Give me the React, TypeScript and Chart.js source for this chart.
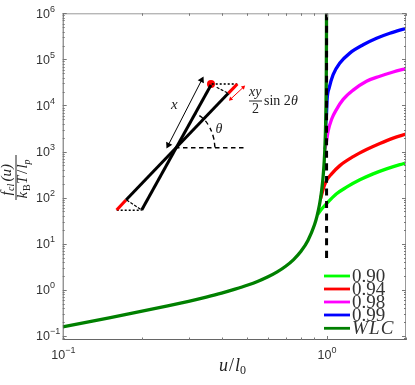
import React, { useEffect, useRef } from "react";
import { Chart, registerables } from "chart.js";

Chart.register(...registerables);

const wlcU = [0.1, 0.15, 0.2, 0.25, 0.3, 0.35, 0.4, 0.45, 0.5, 0.55, 0.6, 0.65, 0.7, 0.75, 0.8, 0.85, 0.9, 0.92, 0.94, 0.95, 0.96, 0.97, 0.98, 0.985, 0.99, 0.993, 0.995, 0.997, 0.998, 0.999, 0.9995];
const wlcF = [0.157, 0.246, 0.341, 0.444, 0.56, 0.692, 0.844, 1.03, 1.25, 1.53, 1.91, 2.44, 3.23, 4.5, 6.8, 11.7, 25.6, 39.7, 70, 100, 157, 278, 626, 1112, 2500, 5100, 10000, 27800, 62500, 250000, 1000000];
const u90 = [0.925, 0.96, 1, 1.091, 1.19, 1.337, 1.501, 1.687, 1.896, 2];
const f90 = [43, 57, 74, 121, 168, 243, 327, 420, 519, 565];
const u94 = [0.95, 0.975, 1, 1.045, 1.123, 1.261, 1.417, 1.592, 1.788, 2];
const f94 = [96, 166, 235, 327, 494, 772, 1104, 1496, 1954, 2384];
const u98 = [0.985, 1, 1.014, 1.045, 1.091, 1.156, 1.261, 1.417, 1.592, 1.788, 2];
const f98 = [1112, 1700, 2806, 5012, 8240, 13530, 21480, 33570, 43000, 53200, 63100];
const u99 = [0.992, 1, 1.005, 1.023, 1.059, 1.123, 1.225, 1.376, 1.547, 1.737, 2];
const f99 = [3600, 7000, 13530, 24060, 46800, 83200, 136800, 207500, 287700, 369000, 473000];
const dashU = [1, 1];
const dashF = [1000000, 4.07];

const seriesLabels = ["0.90", "0.94", "0.98", "0.99"];
const seriesColors = ["#00ff00", "#ff0000", "#ff00ff", "#0000ff"];
const wlcLabel = "WLC";
const wlcColor = "#008000";

const xMajor = [0.1, 1];
const xMinor = [0.2, 0.3, 0.4, 0.5, 0.6, 0.7, 0.8, 0.9, 2];
const yMajorExp = [-1, 0, 1, 2, 3, 4, 5, 6];
const yMinorMult = [2, 3, 4, 5, 6, 7, 8, 9];

// Inset schematic, in the hidden inset axes
const rodAX = [211, 141.7], rodAY = [255, 130];
const rodBX = [228.3, 126], rodBY = [246.7, 140];
const redTopX = [228.3, 237.3], redTopY = [246.7, 256];
const redBotX = [126, 116.7], redBotY = [140, 130];
const dotTopX = [211.7, 237.3], dotTopY = [256, 256];
const dotBotX = [116.7, 141.7], dotBotY = [129.7, 129.7];
const horizX = [175, 244], horizY = [192.3, 192.3];
const perpTopX = [216.7, 228.3], perpTopY = [252.7, 246.7];
const perpBotX = [126.7, 141.7], perpBotY = [140, 130];
const arcX = [215, 213.3, 208.3, 201.7, 195], arcY = [192.7, 203.3, 215, 222.7, 226.7];
const lenArrowX = [168.3, 201.7], lenArrowY = [195, 260];
const redArrowX = [230.7, 243.3], redArrowY = [241, 252.7];
const beadX = [211], beadY = [256];

const zip = (xs: number[], ys: number[]) => xs.map((x, i) => ({ x, y: ys[i] }));

const curve = (xs: number[], ys: number[], color: string, order: number) => ({
  data: zip(xs, ys), borderColor: color, backgroundColor: color, borderWidth: 3.3,
  pointRadius: 0, cubicInterpolationMode: "monotone" as const, order, xAxisID: "x", yAxisID: "y",
});
const inset = (xs: number[], ys: number[], color: string, width: number, dash: number[] = [], extra: object = {}) => ({
  data: zip(xs, ys), borderColor: color, backgroundColor: color, borderWidth: width, borderDash: dash,
  pointRadius: 0, order: 0, xAxisID: "xi", yAxisID: "yi", borderCapStyle: "butt" as const, ...extra,
});
const arrowHeads = (size: number, angle: number) => ({
  pointStyle: "triangle", pointRadius: size, pointRotation: [angle + 180, angle], pointBorderWidth: 0,
});

const SERIF = '"Liberation Serif"';
const SANS = '"Liberation Sans"';
const TICK_COLOR = "#333";

function txt(c: CanvasRenderingContext2D, s: string, x: number, y: number, font: string, align: CanvasTextAlign = "left", color = "#222") {
  c.font = font; c.textAlign = align; c.fillStyle = color; c.textBaseline = "alphabetic"; c.fillText(s, x, y);
}
function powerLabel(c: CanvasRenderingContext2D, exp: number, x: number, y: number) {
  const e = exp < 0 ? "\u2212" + Math.abs(exp) : String(exp);
  txt(c, "10", x, y, `12.5px ${SANS}`, "left", TICK_COLOR);
  txt(c, e, x + 14, y - 6, `9px ${SANS}`, "left", TICK_COLOR);
}

const decor = {
  id: "decor",
  afterDatasetsDraw(chart: any) {
    const c: CanvasRenderingContext2D = chart.ctx;
    const a = chart.chartArea, sx = chart.scales.x, sy = chart.scales.y;
    c.save();
    // frame
    c.lineWidth = 1;
    c.strokeStyle = "#999";
    c.beginPath(); c.moveTo(a.left, a.top + 0.5); c.lineTo(a.right, a.top + 0.5); c.moveTo(a.right - 0.5, a.top); c.lineTo(a.right - 0.5, a.bottom); c.stroke();
    c.strokeStyle = "#666";
    c.beginPath(); c.moveTo(a.left + 0.5, a.top); c.lineTo(a.left + 0.5, a.bottom); c.moveTo(a.left, a.bottom - 0.5); c.lineTo(a.right, a.bottom - 0.5); c.stroke();
    // ticks
    c.strokeStyle = "#777";
    const xTick = (v: number, len: number) => {
      const p = Math.round(sx.getPixelForValue(v)) + 0.5;
      c.moveTo(p, a.bottom); c.lineTo(p, a.bottom - len); c.moveTo(p, a.top); c.lineTo(p, a.top + len);
    };
    const yTick = (v: number, len: number) => {
      if (v < sy.min || v > sy.max) return;
      const p = Math.round(sy.getPixelForValue(v)) + 0.5;
      c.moveTo(a.left, p); c.lineTo(a.left + len, p); c.moveTo(a.right, p); c.lineTo(a.right - len, p);
    };
    c.beginPath();
    xMajor.forEach((v) => xTick(v, 4));
    xMinor.forEach((v) => xTick(v, 2.5));
    yMajorExp.forEach((e) => {
      yTick(Math.pow(10, e), 4);
      yMinorMult.forEach((m) => yTick(m * Math.pow(10, e), 2));
    });
    yTick(0.09, 2);
    c.stroke();
    // tick labels
    yMajorExp.forEach((e) => {
      const p = sy.getPixelForValue(Math.pow(10, e));
      powerLabel(c, e, 36, p + 4.7);
    });
    xMajor.forEach((v) => {
      const e = Math.round(Math.log10(v));
      const p = sx.getPixelForValue(v);
      powerLabel(c, e, e < 0 ? p - 11.5 : p - 9, 358.5);
    });
    // x title
    txt(c, "u", 219, 371, `italic 18px ${SERIF}`);
    txt(c, "/", 229, 371, `18px ${SERIF}`);
    txt(c, "l", 235, 371, `italic 18px ${SERIF}`);
    txt(c, "0", 240, 374, `12px ${SERIF}`);
    // y title
    c.save();
    c.translate(16, 177.5);
    c.rotate(-Math.PI / 2);
    c.fillStyle = "#222";
    c.fillRect(-22.5, -0.5, 45, 1);
    txt(c, "f", -18, -5, `italic 15px ${SERIF}`);
    txt(c, "cl", -13.5, -2.5, `italic 10px ${SERIF}`);
    txt(c, "(u)", -4, -5, `italic 15px ${SERIF}`);
    txt(c, "k", -21, 11, `italic 15px ${SERIF}`);
    txt(c, "B", -13.5, 13.5, `10px ${SERIF}`);
    txt(c, "T", -6.5, 11, `italic 15px ${SERIF}`);
    txt(c, "/", 3.5, 11, `15px ${SERIF}`);
    txt(c, "l", 9, 11, `italic 15px ${SERIF}`);
    txt(c, "p", 13, 14, `italic 10px ${SERIF}`);
    c.restore();
    // inset text
    txt(c, "x", 171, 109, `italic 15px ${SERIF}`);
    txt(c, "\u03b8", 215.5, 133, `italic 14px ${SERIF}`);
    txt(c, "xy", 249, 96, `italic 14px ${SERIF}`, "left");
    c.fillStyle = "#222"; c.fillRect(249, 100.5, 13, 1);
    txt(c, "2", 252, 113, `14px ${SERIF}`);
    txt(c, "sin 2", 264, 105, `14px ${SERIF}`);
    txt(c, "\u03b8", 291, 105, `italic 14px ${SERIF}`);
    // legend
    const rows = [...seriesLabels.map((l, i) => ({ l, col: seriesColors[i], it: false })), { l: wlcLabel, col: wlcColor, it: true }];
    rows.forEach((r, i) => {
      const y = i === 4 ? 328.3 : 276 + i * 13;
      c.strokeStyle = r.col; c.lineWidth = 2.8;
      c.beginPath(); c.moveTo(324, y); c.lineTo(350, y); c.stroke();
      c.letterSpacing = r.it ? "1.2px" : "0px";
      txt(c, r.l, 352, y + 6, `${r.it ? "italic " : ""}19px ${SERIF}`, "left", "#333");
      c.letterSpacing = "0px";
    });
    c.restore();
  },
};

const noFit = (s: any) => { s.width = s.isHorizontal() ? s.width : 0; s.height = s.isHorizontal() ? 0 : s.height; };

export default function App() {
  const ref = useRef<HTMLCanvasElement>(null);
  useEffect(() => {
    const chart = new Chart(ref.current as HTMLCanvasElement, {
      type: "line",
      data: {
        datasets: [
          curve(dashU, dashF, "#000000", 1),
          curve(wlcU, wlcF, wlcColor, 2),
          curve(u99, f99, seriesColors[3], 3),
          curve(u98, f98, seriesColors[2], 4),
          curve(u94, f94, seriesColors[1], 5),
          curve(u90, f90, seriesColors[0], 6),
          inset(rodAX, rodAY, "#000", 3),
          inset(rodBX, rodBY, "#000", 3),
          inset(redTopX, redTopY, "#ff0000", 3.2),
          inset(redBotX, redBotY, "#ff0000", 3.2),
          inset(dotTopX, dotTopY, "#000", 1.6, [2, 2]),
          inset(dotBotX, dotBotY, "#000", 1.6, [2, 2]),
          inset(horizX, horizY, "#000", 1.4, [4.5, 3.5]),
          inset(perpTopX, perpTopY, "#000", 1.2, [3, 1.5]),
          inset(perpBotX, perpBotY, "#000", 1.2, [3, 1.5]),
          inset(arcX, arcY, "#000", 1.4, [4.5, 3.5], { tension: 0.4 }),
          inset(lenArrowX, lenArrowY, "#000", 1, [], arrowHeads(4, 27)),
          inset(redArrowX, redArrowY, "#ff0000", 1, [], arrowHeads(2.5, 47)),
          inset(beadX, beadY, "#ff0000", 0, [], { pointRadius: 4, pointStyle: "circle" }),
        ].map((d: any, i: number) => (i === 0 ? { ...d, borderDash: [7, 5.5], borderWidth: 3, borderCapStyle: "butt" } : d)),
      },
      options: {
        responsive: false,
        animation: false,
        layout: { padding: { left: 62.7, right: 9, top: 13.3, bottom: 45 } },
        plugins: { legend: { display: false }, tooltip: { enabled: false }, title: { display: false } },
        scales: {
          x: { type: "logarithmic", min: 0.1, max: 2, afterFit: noFit, ticks: { display: false }, grid: { display: false }, border: { display: false } },
          y: { type: "logarithmic", min: 0.081, max: 1000000, afterFit: noFit, ticks: { display: false }, grid: { display: false }, border: { display: false } },
          xi: { type: "linear", min: 62.7, max: 406, display: false },
          yi: { type: "linear", min: 0, max: 326.7, display: false },
        },
      } as any,
      plugins: [decor],
    });
    return () => chart.destroy();
  }, []);
  return (
    <div style={{ position: "absolute", left: 0, top: 0, width: 415, height: 385, background: "#fff" }}>
      <canvas ref={ref} width={415} height={385} style={{ display: "block" }} />
    </div>
  );
}
